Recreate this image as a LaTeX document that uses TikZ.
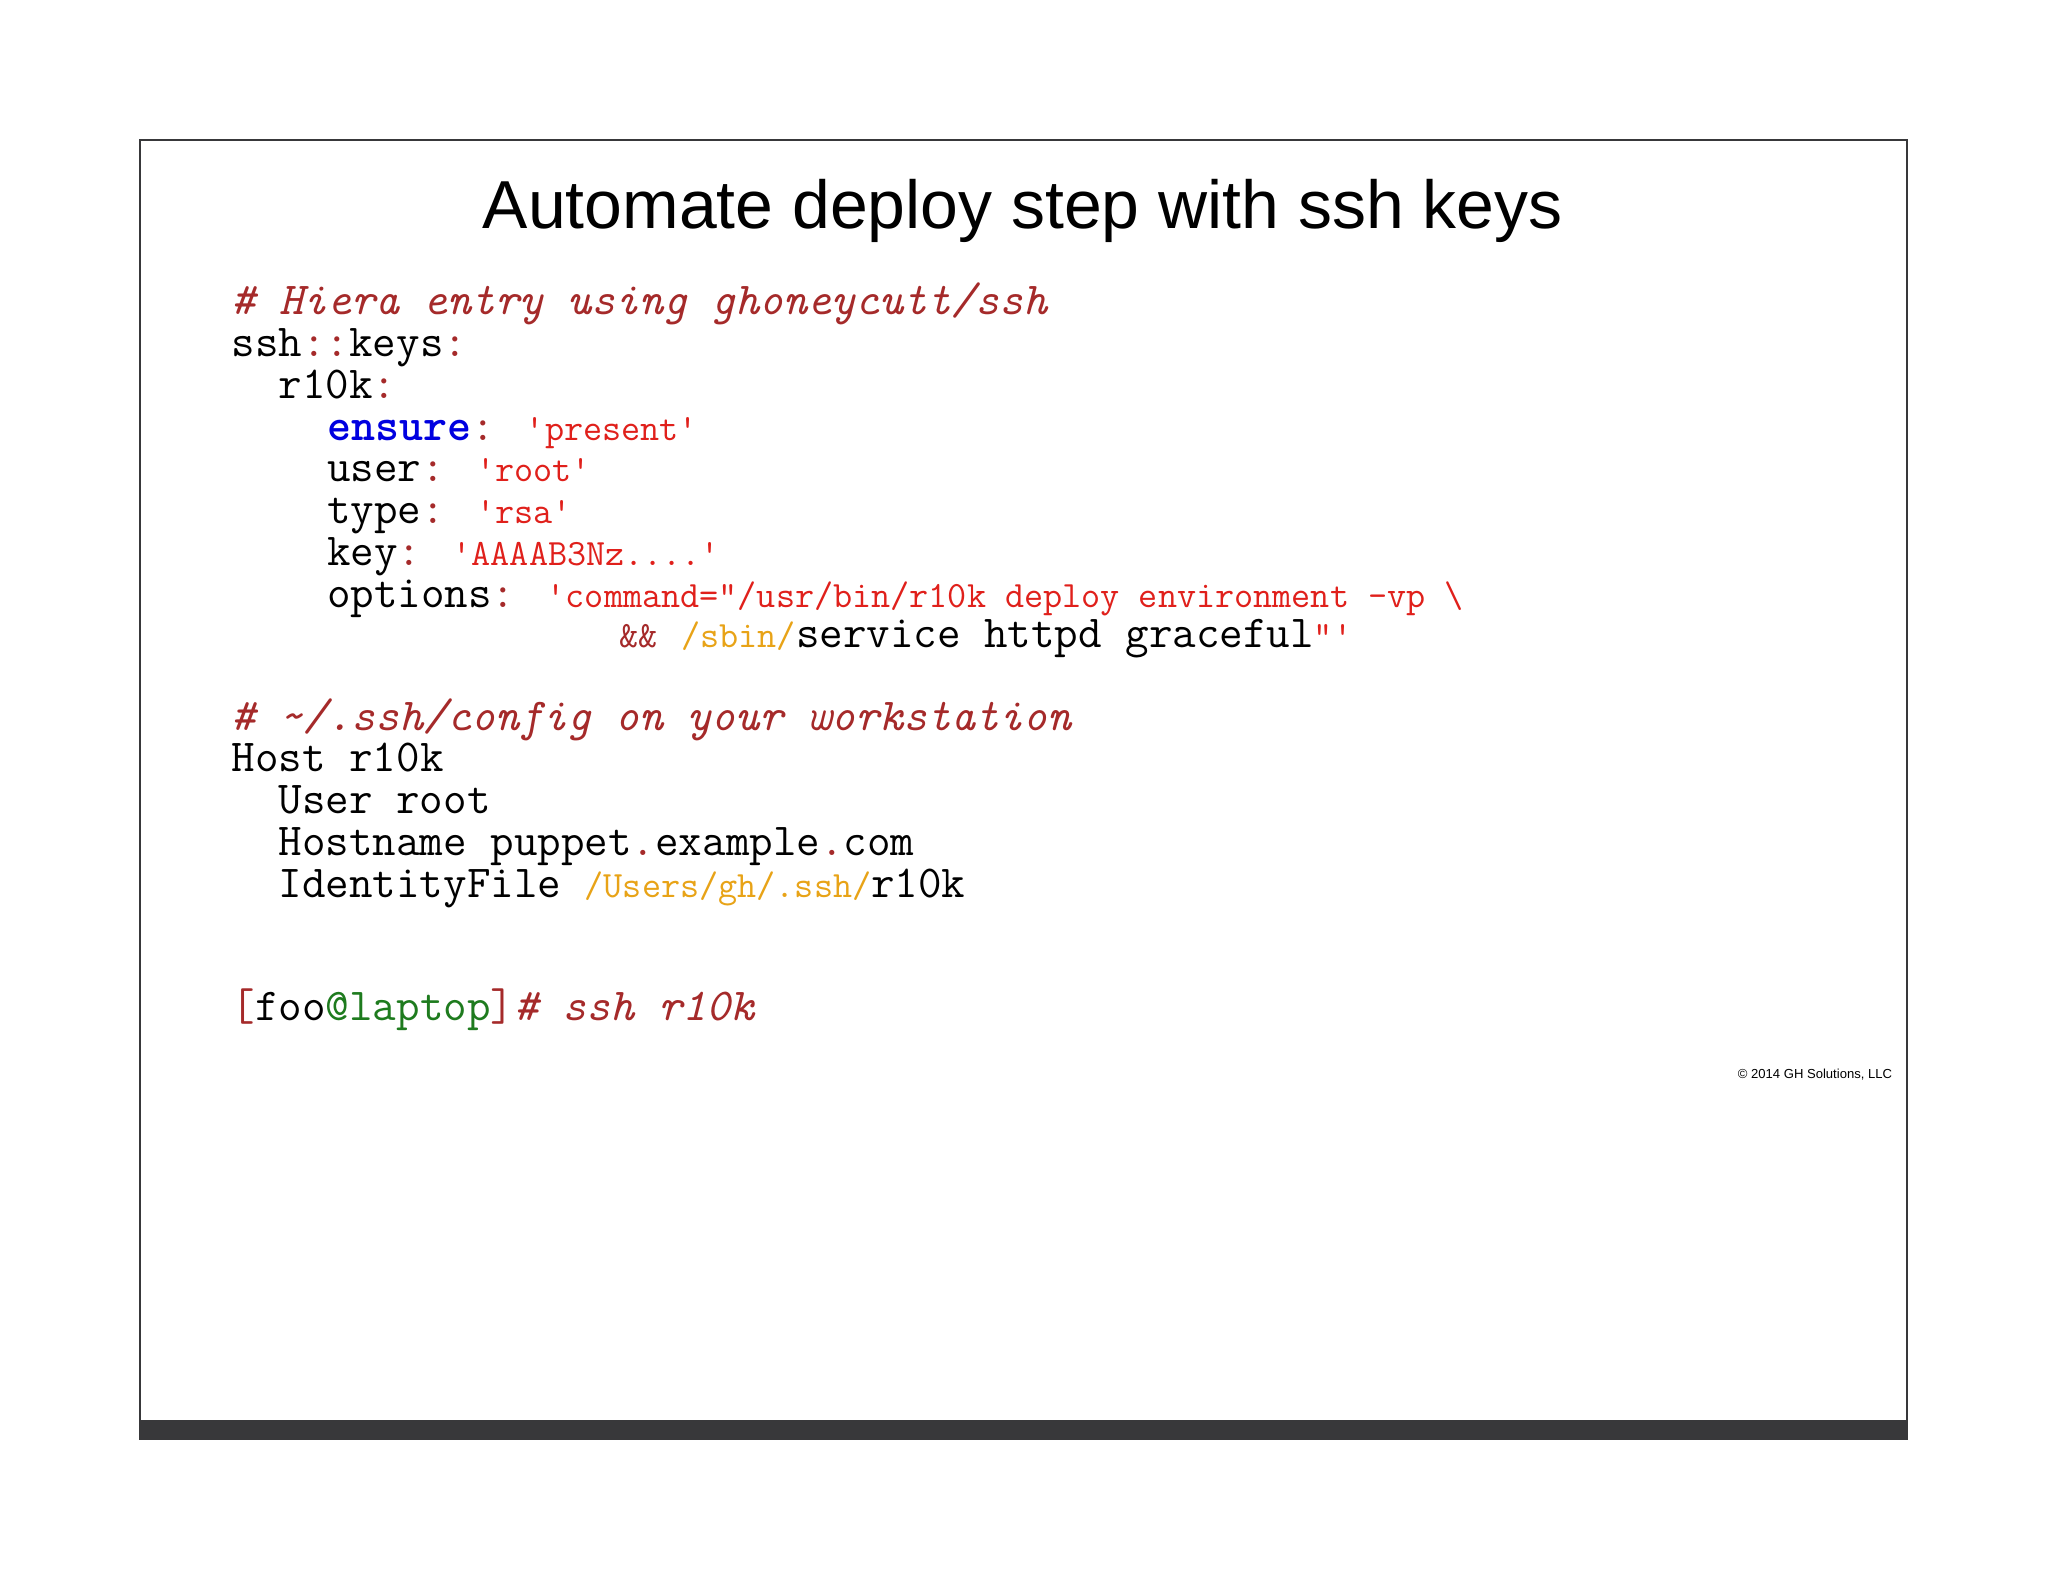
\documentclass[tikz,border=0pt]{standalone}
\usepackage{fontspec}
\setmainfont{Liberation Sans}
\definecolor{cmt}{HTML}{A52A2A}
\definecolor{str}{HTML}{E0201B}
\definecolor{path}{HTML}{E8A317}
\definecolor{kw}{HTML}{0000E0}
\definecolor{grn}{HTML}{1E7B1E}
\definecolor{bar}{HTML}{38383A}
\newcommand{\sS}[1]{{\fontsize{14.2}{14.2}\selectfont\color{str}#1}}
\newcommand{\pP}[1]{{\fontsize{14.2}{14.2}\selectfont\color{path}#1}}
\newcommand{\cC}[1]{{\color{cmt}#1}}
\begin{document}
\begin{tikzpicture}[x=0.5pt,y=-0.5pt,
  code/.style={anchor=base west,inner sep=0,font=\ttfamily\fontsize{17.5}{17.5}\selectfont}]
\useasboundingbox (0,0) rectangle (1568,1211);
\fill[white] (0,0) rectangle (1568,1211);
\draw[line width=0.7pt,draw=bar] (107,107) rectangle (1460,1102);
\fill[bar] (107,1087) rectangle (1460,1102);
\node[anchor=base,inner sep=0,font=\fontsize{26}{26}\selectfont] (title) at (783,175) {Automate deploy step with ssh keys};
\node[code] (l1) at (177,241) {\cC{\itshape \# Hiera entry using ghoneycutt/ssh}};
\node[code] (l2) at (177,273) {ssh\cC{::}keys\cC{:}};
\node[code] (l3) at (213,305) {r10k\cC{:}};
\node[code] (l4) at (250,337) {{\bfseries\color{kw}ensure}\cC{:} \sS{'present'}};
\node[code] (l5) at (250,369) {user\cC{:} \sS{'root'}};
\node[code] (l6) at (250,401) {type\cC{:} \sS{'rsa'}};
\node[code] (l7) at (250,433) {key\cC{:} \sS{'AAAAB3Nz....'}};
\node[code] (l8) at (250,465) {options\cC{:} \sS{'command="/usr/bin/r10k deploy environment -vp \textbackslash}};
\node[code] (l9) at (474,496) {{\fontsize{14.2}{14.2}\selectfont\color{cmt}\&\&} \pP{/sbin/}service httpd graceful\sS{"'}};
\node[code] (l10) at (177,559) {\cC{\itshape \# \string~/.ssh/config on your workstation}};
\node[code] (l11) at (177,591) {Host r10k};
\node[code] (l12) at (213,623) {User root};
\node[code] (l13) at (213,655) {Hostname puppet\cC{.}example\cC{.}com};
\node[code] (l14) at (213,687) {IdentityFile \pP{/Users/gh/.ssh/}r10k};
\node[code] (l15) at (177,781) {\cC{[}foo{\color{grn}@laptop}\cC{]}\cC{\itshape\# ssh r10k}};
\node[anchor=base east,inner sep=0,font=\fontsize{5}{5}\selectfont] (copy) at (1449,826) {© 2014 GH Solutions, LLC};
\end{tikzpicture}
\end{document}
